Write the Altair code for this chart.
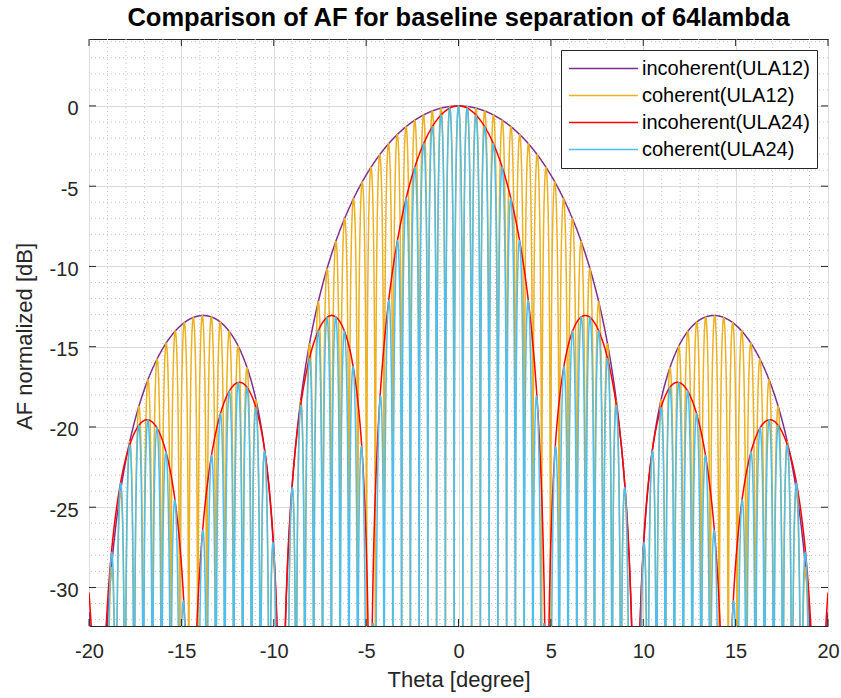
import numpy as np
import pandas as pd
import altair as alt

# ---- angle grid (degrees) ----
theta_start, theta_stop, theta_step = -20.0, 20.0, 0.005

# ---- sub-arrays: (element count, element pitch in wavelengths) ----
array_labels = ["ULA12", "ULA24"]
array_elements = [12, 12]
array_pitch = [0.5, 1.0]
fringe_rate = 121.0            # interferometer fringe cycles per unit sin(theta)

series_names = ["incoherent(ULA12)", "coherent(ULA12)",
                "incoherent(ULA24)", "coherent(ULA24)"]
series_colors = ["#7E2F8E", "#EDB120", "#FF0000", "#4DBEEE"]

x_ticks = [-20, -15, -10, -5, 0, 5, 10, 15, 20]
y_ticks = [-30, -25, -20, -15, -10, -5, 0]
x_minor = [v for v in range(-20, 21) if v % 5 != 0]
y_minor = [v for v in range(-32, 5) if v % 5 != 0]

x_domain = [-20, 20]
y_domain = [-32.4, 4.17]

FONT = "Liberation Sans, Arial, Helvetica, sans-serif"
W, H = 739, 587
TICK_LEN = 7
AXIS_GRAY = "#262626"

# ---- array factors ----
n_pts = int(round((theta_stop - theta_start) / theta_step)) + 1
theta = np.round(theta_start + np.arange(n_pts) * theta_step, 4)
u = np.sin(np.deg2rad(theta))


def ula_af(n_elem, pitch):
    psi = np.pi * pitch * u
    den = n_elem * np.sin(psi)
    num = np.sin(n_elem * psi)
    af = np.ones_like(u)
    ok = np.abs(den) > 1e-12
    af[ok] = num[ok] / den[ok]
    return np.abs(af)


def to_db(a):
    return 20 * np.log10(np.maximum(a, 1e-4))


fringe = np.abs(np.cos(np.pi * fringe_rate * u))
curves = {}
for lbl, n, pitch in zip(array_labels, array_elements, array_pitch):
    af = ula_af(n, pitch)
    curves[f"incoherent({lbl})"] = to_db(af)
    curves[f"coherent({lbl})"] = to_db(af * fringe)

frames = []
for name in series_names:
    frames.append(pd.DataFrame({"theta": theta,
                                "af": np.round(curves[name], 3),
                                "series": name}))
df = pd.concat(frames, ignore_index=True)

x_scale = alt.Scale(domain=x_domain, nice=False, zero=False)
y_scale = alt.Scale(domain=y_domain, nice=False, zero=False)
color_scale = alt.Scale(domain=series_names, range=series_colors)

x_axis = alt.Axis(values=x_ticks, grid=True, gridColor="#dcdcdc", gridWidth=1,
                  ticks=False, tickSize=0, domain=False,
                  labelExpr="'' + datum.value",
                  labelFont=FONT, labelFontSize=20, labelColor=AXIS_GRAY,
                  labelPadding=15, labelFlush=False, labelOverlap=False,
                  title="Theta [degree]", titleFont=FONT, titleFontSize=22,
                  titleFontWeight="normal", titleColor=AXIS_GRAY,
                  titleY=60, titleBaseline="alphabetic")
y_axis = alt.Axis(values=y_ticks, grid=True, gridColor="#dcdcdc", gridWidth=1,
                  ticks=False, tickSize=0, domain=False,
                  labelExpr="'' + datum.value",
                  labelFont=FONT, labelFontSize=20, labelColor=AXIS_GRAY,
                  labelPadding=11, labelOffset=3, labelFlush=False, labelOverlap=False,
                  title="AF normalized [dB]", titleFont=FONT, titleFontSize=22,
                  titleFontWeight="normal", titleColor=AXIS_GRAY,
                  titleX=-65, titleY=297, titleAngle=270, titleBaseline="middle")

legend = alt.Legend(title=None, orient="none", legendX=472, legendY=11,
                    symbolType="stroke", symbolSize=69 * 69, symbolStrokeWidth=1.5,
                    labelFont=FONT, labelFontSize=20, labelColor="#000000",
                    labelOffset=3, labelLimit=0,
                    padding=7, strokeColor=AXIS_GRAY, fillColor="white",
                    clipHeight=23, rowPadding=4, cornerRadius=0)

X = lambda f: alt.X(f, scale=x_scale, axis=x_axis)
Y = lambda f: alt.Y(f, scale=y_scale, axis=y_axis)

# minor dotted grid
minor_x = alt.Chart(pd.DataFrame({"v": x_minor})).mark_rule(
    color="#c4c4c4", strokeDash=[1, 3], strokeWidth=1
).encode(x=X("v:Q"))
minor_y = alt.Chart(pd.DataFrame({"v": y_minor})).mark_rule(
    color="#c4c4c4", strokeDash=[1, 3], strokeWidth=1
).encode(y=Y("v:Q"))

# curves, drawn in legend order
layers = []
for name in series_names:
    layers.append(
        alt.Chart(df).transform_filter(alt.datum.series == name)
        .mark_line(clip=True, strokeWidth=1.5)
        .encode(x=X("theta:Q"), y=Y("af:Q"),
                color=alt.Color("series:N", scale=color_scale, legend=legend))
    )

# inward tick marks on all four sides
xt = pd.DataFrame({"v": x_ticks})
yt = pd.DataFrame({"v": y_ticks})
tick_bottom = alt.Chart(xt).mark_rule(color=AXIS_GRAY, strokeWidth=1).encode(
    x=X("v:Q"), y=alt.value(H), y2=alt.value(H - TICK_LEN))
tick_top = alt.Chart(xt).mark_rule(color=AXIS_GRAY, strokeWidth=1).encode(
    x=X("v:Q"), y=alt.value(0), y2=alt.value(TICK_LEN))
tick_left = alt.Chart(yt).mark_rule(color=AXIS_GRAY, strokeWidth=1).encode(
    y=Y("v:Q"), x=alt.value(0), x2=alt.value(TICK_LEN))
tick_right = alt.Chart(yt).mark_rule(color=AXIS_GRAY, strokeWidth=1).encode(
    y=Y("v:Q"), x=alt.value(W), x2=alt.value(W - TICK_LEN))

chart = alt.layer(
    minor_x, minor_y, *layers, tick_bottom, tick_top, tick_left, tick_right
).properties(
    width=W, height=H,
    padding={"left": 89, "top": 39, "right": 13, "bottom": 72},
    autosize=alt.AutoSizeParams(type="none"),
    background="white",
    title=alt.TitleParams(
        "Comparison of AF for baseline separation of 64lambda",
        font=FONT, fontSize=25.5, fontWeight="bold", color="#000000",
        anchor="middle", frame="group", offset=11, dy=24, baseline="alphabetic"),
).configure_view(
    stroke=AXIS_GRAY, strokeWidth=1
)

chart.save("out.html", embed_options={"renderer": "svg", "actions": False})
